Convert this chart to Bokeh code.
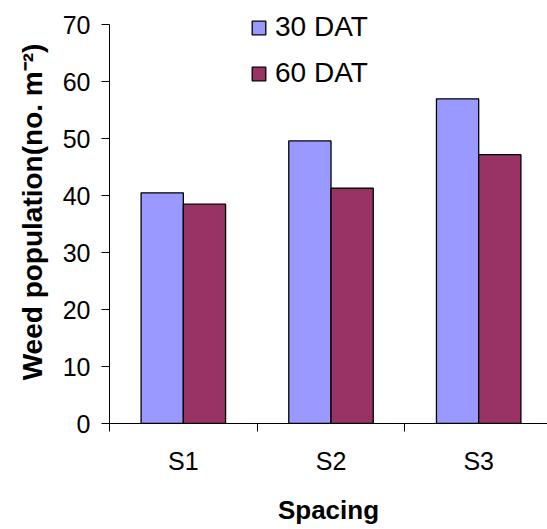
import numpy as np
from bokeh.plotting import figure
from bokeh.models import (ColumnDataSource, Range1d, FixedTicker, Legend,
                          LegendItem)
from bokeh.embed import file_html
from bokeh.resources import INLINE

# Weed population per spacing treatment, at 30 and 60 days after transplanting
spacing = ["S1", "S2", "S3"]
dat30 = [40.5, 49.6, 57.0]
dat60 = [38.5, 41.3, 47.2]
series_names = ["30 DAT", "60 DAT"]
y_ticks = [0, 10, 20, 30, 40, 50, 60, 70]

FONT = "Liberation Sans"
COL30 = "#9999FF"
COL60 = "#993366"

centers = np.arange(len(spacing)) + 0.5
bar_w = 0.286

p = figure(width=547, height=529, output_backend="svg", toolbar_location=None,
           x_range=Range1d(0, 2.966), y_range=Range1d(0, 74.26),
           min_border_left=109, min_border_right=0, min_border_top=0,
           min_border_bottom=106)
p.outline_line_color = None
p.xgrid.visible = False
p.ygrid.visible = False
p.background_fill_color = "white"
p.border_fill_color = "white"

src = ColumnDataSource(dict(x30=centers - bar_w / 2, x60=centers + bar_w / 2,
                            v30=dat30, v60=dat60))
r30 = p.vbar(x="x30", top="v30", bottom=0, width=bar_w, source=src,
             fill_color=COL30, line_color="black", line_width=1.3)
r60 = p.vbar(x="x60", top="v60", bottom=0, width=bar_w, source=src,
             fill_color=COL60, line_color="black", line_width=1.3)

# x axis: labels at group centres, tick marks between groups
xa = p.xaxis[0]
xa.ticker = FixedTicker(ticks=list(centers), minor_ticks=list(range(len(spacing))))
xa.major_label_overrides = {float(c): s for c, s in zip(centers, spacing)}
xa.major_tick_in = 0
xa.major_tick_out = 0
xa.minor_tick_in = 0
xa.minor_tick_out = 8
xa.minor_tick_line_color = "black"
xa.axis_line_color = "black"
xa.major_label_text_font = FONT
xa.major_label_text_font_size = "25px"
xa.major_label_text_color = "black"
xa.major_label_standoff = 15
xa.axis_label = "Spacing"
xa.axis_label_text_font = FONT
xa.axis_label_text_font_style = "bold"
xa.axis_label_text_font_size = "26px"
xa.axis_label_text_color = "black"
xa.axis_label_standoff = 17

ya = p.yaxis[0]
ya.ticker = FixedTicker(ticks=y_ticks)
ya.bounds = (0, 70)
ya.major_tick_in = 0
ya.major_tick_out = 8
ya.minor_tick_out = 0
ya.major_tick_line_color = "black"
ya.axis_line_color = "black"
ya.major_label_text_font = FONT
ya.major_label_text_font_size = "25px"
ya.major_label_text_color = "black"
ya.major_label_standoff = 11
ya.axis_label = "Weed population(no. m\u207b\u00b2)"
ya.axis_label_text_font = FONT
ya.axis_label_text_font_style = "bold"
ya.axis_label_text_font_size = "28px"
ya.axis_label_text_color = "black"
ya.axis_label_standoff = 12

legend = Legend(items=[LegendItem(label=series_names[0], renderers=[r30]),
                       LegendItem(label=series_names[1], renderers=[r60])],
                location=(141, 334), orientation="vertical",
                border_line_color=None, background_fill_alpha=0,
                padding=0, margin=0, spacing=14,
                glyph_width=17, glyph_height=17, label_height=17,
                label_standoff=8, label_text_font=FONT,
                label_text_font_size="28px", label_text_color="black")
p.add_layout(legend)

open("out.html", "w").write(file_html(p, INLINE))
